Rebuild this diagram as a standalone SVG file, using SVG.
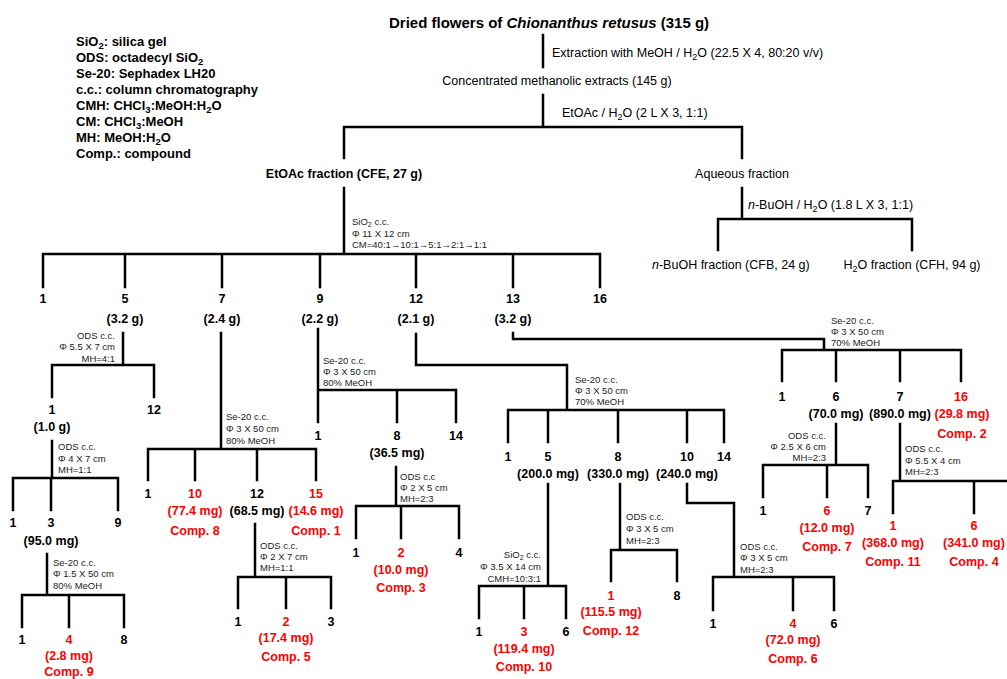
<svg xmlns="http://www.w3.org/2000/svg" width="1007" height="679" viewBox="0 0 1007 679">
<style>
.ln{stroke:#000;stroke-width:2.5;fill:none;stroke-linecap:square}
text{font-family:"Liberation Sans",Arial,sans-serif;fill:#000}
.t{font-size:12.5px}
.title{font-size:15px;font-weight:bold}
.b{font-size:12.5px;font-weight:bold;text-anchor:middle}
.lg{font-size:13px;font-weight:bold}
.s{font-size:9.5px;fill:#222}
.r{fill:#ff0000}
.m{text-anchor:middle}
.e{text-anchor:end}
</style>
<rect width="1007" height="679" fill="#fff"/>
<g id="legend">
<text class="lg" x="76" y="46">SiO<tspan font-size="9.5" dy="3">2</tspan><tspan dy="-3">: silica gel</tspan></text>
<text class="lg" x="76" y="62">ODS: octadecyl SiO<tspan font-size="9.5" dy="3">2</tspan></text>
<text class="lg" x="76" y="78">Se-20: Sephadex LH20</text>
<text class="lg" x="76" y="94">c.c.: column chromatography</text>
<text class="lg" x="76" y="110">CMH: CHCl<tspan font-size="9.5" dy="3">3</tspan><tspan dy="-3">:MeOH:H</tspan><tspan font-size="9.5" dy="3">2</tspan><tspan dy="-3">O</tspan></text>
<text class="lg" x="76" y="126">CM: CHCl<tspan font-size="9.5" dy="3">3</tspan><tspan dy="-3">:MeOH</tspan></text>
<text class="lg" x="76" y="142">MH: MeOH:H<tspan font-size="9.5" dy="3">2</tspan><tspan dy="-3">O</tspan></text>
<text class="lg" x="76" y="158">Comp.: compound</text>
</g>
<g id="connectors">
<path class="ln" d="M543,35V67M543,95V127M344,158V127H742V158M344,188V254M43,287V254H600V287M125,254V287M222,254V287M320,254V287M416,254V287M513,254V287M742,188V219M718,250V219H912V250"/>
<path class="ln" d="M123,333V365M52,397V365H154V397M52,441V478M13,510V478H118V510M51,478V510M47,554V595M22,627V595H124V627M69,595V627"/>
<path class="ln" d="M221,333V449M148,480V449H316V480M195,449V480M257,449V480M255,524V577M238,608V577H331V608M286,577V608"/>
<path class="ln" d="M318,329V422M318,390H456V422M397,390V422M396,467V506M356,538V506H459V538M401,506V538"/>
<path class="ln" d="M416,334V365H567V410M508,442V410H724V442M548,410V442M618,410V442M687,410V442M548,484V586M479,618V586H566V618M524,586V618M620,484V550M611,581V550H677V581M687,484V503H734V577M713,610V577H834V610M793,577V610"/>
<path class="ln" d="M513,333V339H824V350M782,381V350H961V381M836,350V381M900,350V381M836,424V465M763,497V465H868V497M827,465V497M900,424V481M893,513V481H1010M974,481V513"/>
</g>
<g id="root">
<text class="title" x="389" y="28">Dried flowers of <tspan font-style="italic">Chionanthus retusus</tspan> (315 g)</text>
<text class="t" x="552" y="57">Extraction with MeOH / H<tspan font-size="9" dy="3">2</tspan><tspan dy="-3">O (22.5 X 4, 80:20 v/v)</tspan></text>
</g>
<g id="extract">
<text class="t m" x="557" y="85">Concentrated methanolic extracts (145 g)</text>
<text class="t" x="562" y="117">EtOAc / H<tspan font-size="9" dy="3">2</tspan><tspan dy="-3">O (2 L X 3, 1:1)</tspan></text>
</g>
<g id="cfe">
<text class="b" x="344" y="178">EtOAc fraction (CFE, 27 g)</text>
<text class="s" x="352" y="225">SiO<tspan font-size="7" dy="2">2</tspan><tspan dy="-2"> c.c.</tspan></text>
<text class="s" x="352" y="237">Φ 11 X 12 cm</text>
<text class="s" x="352" y="248">CM=40:1→10:1→5:1→2:1→1:1</text>
</g>
<g id="aqueous">
<text class="t m" x="742" y="178">Aqueous fraction</text>
<text class="t" x="748" y="209"><tspan font-style="italic">n</tspan>-BuOH / H<tspan font-size="9" dy="3">2</tspan><tspan dy="-3">O (1.8 L X 3, 1:1)</tspan></text>
</g>
<g id="cfb"><text class="t" x="652" y="269"><tspan font-style="italic">n</tspan>-BuOH fraction (CFB, 24 g)</text></g>
<g id="cfh"><text class="t m" x="912" y="269">H<tspan font-size="9" dy="3">2</tspan><tspan dy="-3">O fraction (CFH, 94 g)</tspan></text></g>
<g id="f1"><text class="b" x="43" y="303">1</text></g>
<g id="f5"><text class="b" x="125" y="303">5</text><text class="b" x="125" y="323">(3.2 g)</text>
<text class="s e" x="115" y="339">ODS c.c.</text><text class="s e" x="115" y="350">Φ 5.5 X 7 cm</text><text class="s e" x="115" y="362">MH=4:1</text></g>
<g id="f7"><text class="b" x="222" y="303">7</text><text class="b" x="222" y="323">(2.4 g)</text>
<text class="s" x="226" y="420">Se-20 c.c.</text><text class="s" x="226" y="432">Φ 3 X 50 cm</text><text class="s" x="226" y="444">80% MeOH</text></g>
<g id="f9"><text class="b" x="320" y="303">9</text><text class="b" x="320" y="323">(2.2 g)</text>
<text class="s" x="323" y="364">Se-20 c.c.</text><text class="s" x="323" y="375">Φ 3 X 50 cm</text><text class="s" x="323" y="386">80% MeOH</text></g>
<g id="f12"><text class="b" x="416" y="303">12</text><text class="b" x="416" y="323">(2.1 g)</text>
<text class="s" x="575" y="383">Se-20 c.c.</text><text class="s" x="575" y="394">Φ 3 X 50 cm</text><text class="s" x="575" y="405">70% MeOH</text></g>
<g id="f13"><text class="b" x="513" y="303">13</text><text class="b" x="513" y="323">(3.2 g)</text>
<text class="s" x="831" y="324">Se-20 c.c.</text><text class="s" x="831" y="335">Φ 3 X 50 cm</text><text class="s" x="831" y="346">70% MeOH</text></g>
<g id="f16"><text class="b" x="600" y="303">16</text></g>
<g id="f5-1"><text class="b" x="52" y="414">1</text><text class="b" x="52" y="431">(1.0 g)</text>
<text class="s" x="58" y="450">ODS c.c.</text><text class="s" x="58" y="462">Φ 4 X 7 cm</text><text class="s" x="58" y="473">MH=1:1</text></g>
<g id="f5-12"><text class="b" x="154" y="414">12</text></g>
<g id="f5-1-1"><text class="b" x="13" y="527">1</text></g>
<g id="f5-1-3"><text class="b" x="51" y="527">3</text><text class="b" x="51" y="545">(95.0 mg)</text>
<text class="s" x="53" y="566">Se-20 c.c.</text><text class="s" x="53" y="577">Φ 1.5 X 50 cm</text><text class="s" x="53" y="589">80% MeOH</text></g>
<g id="f5-1-9"><text class="b" x="118" y="527">9</text></g>
<g id="c9-1"><text class="b" x="22" y="644">1</text></g>
<g id="comp9"><text class="b r" x="69" y="644">4</text><text class="b r" x="69" y="660">(2.8 mg)</text><text class="b r" x="69" y="676">Comp. 9</text></g>
<g id="c9-8"><text class="b" x="124" y="644">8</text></g>
<g id="f7-1"><text class="b" x="148" y="498">1</text></g>
<g id="comp8"><text class="b r" x="195" y="498">10</text><text class="b r" x="195" y="515">(77.4 mg)</text><text class="b r" x="195" y="535">Comp. 8</text></g>
<g id="f7-12"><text class="b" x="257" y="498">12</text><text class="b" x="257" y="515">(68.5 mg)</text>
<text class="s" x="260" y="549">ODS c.c.</text><text class="s" x="260" y="560">Φ 2 X 7 cm</text><text class="s" x="260" y="571">MH=1:1</text></g>
<g id="comp1"><text class="b r" x="316" y="498">15</text><text class="b r" x="316" y="515">(14.6 mg)</text><text class="b r" x="316" y="535">Comp. 1</text></g>
<g id="c5-1"><text class="b" x="238" y="626">1</text></g>
<g id="comp5"><text class="b r" x="286" y="626">2</text><text class="b r" x="286" y="642">(17.4 mg)</text><text class="b r" x="286" y="661">Comp. 5</text></g>
<g id="c5-3"><text class="b" x="331" y="626">3</text></g>
<g id="f9-1"><text class="b" x="318" y="440">1</text></g>
<g id="f9-8"><text class="b" x="397" y="440">8</text><text class="b" x="397" y="457">(36.5 mg)</text>
<text class="s" x="400" y="480">ODS c.c</text><text class="s" x="400" y="491">Φ 2 X 5 cm</text><text class="s" x="400" y="502">MH=2:3</text></g>
<g id="f9-14"><text class="b" x="456" y="440">14</text></g>
<g id="c3-1"><text class="b" x="356" y="557">1</text></g>
<g id="comp3"><text class="b r" x="401" y="557">2</text><text class="b r" x="401" y="574">(10.0 mg)</text><text class="b r" x="401" y="592">Comp. 3</text></g>
<g id="c3-4"><text class="b" x="459" y="557">4</text></g>
<g id="f12-1"><text class="b" x="508" y="461">1</text></g>
<g id="f12-5"><text class="b" x="548" y="461">5</text><text class="b" x="548" y="478">(200.0 mg)</text>
<text class="s e" x="541" y="558">SiO<tspan font-size="7" dy="2">2</tspan><tspan dy="-2"> c.c.</tspan></text><text class="s e" x="541" y="570">Φ 3.5 X 14 cm</text><text class="s e" x="541" y="582">CMH=10:3:1</text></g>
<g id="f12-8"><text class="b" x="618" y="461">8</text><text class="b" x="618" y="478">(330.0 mg)</text>
<text class="s" x="626" y="520">ODS c.c.</text><text class="s" x="626" y="532">Φ 3 X 5 cm</text><text class="s" x="626" y="544">MH=2:3</text></g>
<g id="f12-10"><text class="b" x="687" y="461">10</text><text class="b" x="687" y="478">(240.0 mg)</text>
<text class="s" x="740" y="550">ODS c.c.</text><text class="s" x="740" y="561">Φ 3 X 5 cm</text><text class="s" x="740" y="573">MH=2:3</text></g>
<g id="f12-14"><text class="b" x="724" y="461">14</text></g>
<g id="c10-1"><text class="b" x="479" y="636">1</text></g>
<g id="comp10"><text class="b r" x="524" y="636">3</text><text class="b r" x="524" y="653">(119.4 mg)</text><text class="b r" x="524" y="671">Comp. 10</text></g>
<g id="c10-6"><text class="b" x="566" y="636">6</text></g>
<g id="comp12"><text class="b r" x="611" y="600">1</text><text class="b r" x="611" y="616">(115.5 mg)</text><text class="b r" x="611" y="635">Comp. 12</text></g>
<g id="c12-8"><text class="b" x="677" y="600">8</text></g>
<g id="c6-1"><text class="b" x="713" y="628">1</text></g>
<g id="comp6"><text class="b r" x="793" y="628">4</text><text class="b r" x="793" y="644">(72.0 mg)</text><text class="b r" x="793" y="663">Comp. 6</text></g>
<g id="c6-6"><text class="b" x="834" y="628">6</text></g>
<g id="f13-1"><text class="b" x="782" y="401">1</text></g>
<g id="f13-6"><text class="b" x="836" y="401">6</text><text class="b" x="836" y="418">(70.0 mg)</text>
<text class="s e" x="826" y="439">ODS c.c.</text><text class="s e" x="826" y="450">Φ 2.5 X 6 cm</text><text class="s e" x="826" y="461">MH=2:3</text></g>
<g id="f13-7"><text class="b" x="900" y="401">7</text><text class="b" x="900" y="418">(890.0 mg)</text>
<text class="s" x="905" y="452">ODS c.c.</text><text class="s" x="905" y="464">Φ 5.5 X 4 cm</text><text class="s" x="905" y="475">MH=2:3</text></g>
<g id="comp2"><text class="b r" x="961" y="401">16</text><text class="b r" x="962" y="418">(29.8 mg)</text><text class="b r" x="962" y="438">Comp. 2</text></g>
<g id="c7-1"><text class="b" x="763" y="515">1</text></g>
<g id="comp7"><text class="b r" x="827" y="515">6</text><text class="b r" x="827" y="532">(12.0 mg)</text><text class="b r" x="827" y="551">Comp. 7</text></g>
<g id="c7-7"><text class="b" x="868" y="515">7</text></g>
<g id="comp11"><text class="b r" x="893" y="530">1</text><text class="b r" x="893" y="547">(368.0 mg)</text><text class="b r" x="893" y="566">Comp. 11</text></g>
<g id="comp4"><text class="b r" x="974" y="530">6</text><text class="b r" x="974" y="547">(341.0 mg)</text><text class="b r" x="974" y="566">Comp. 4</text></g>
</svg>
